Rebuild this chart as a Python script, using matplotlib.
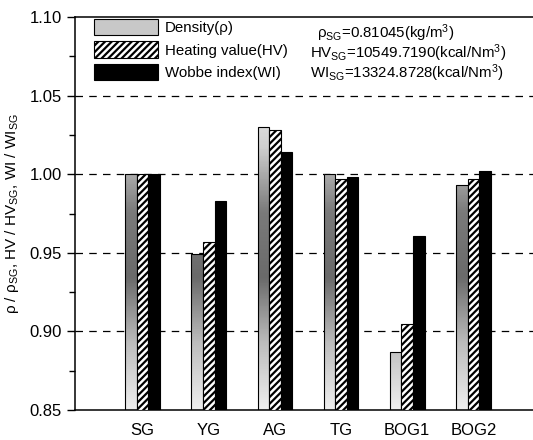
import numpy as np
import matplotlib; matplotlib.use("Agg")
import matplotlib.pyplot as plt
from matplotlib.patches import Patch
from matplotlib.colors import LinearSegmentedColormap

plt.rcParams["font.family"] = ["Liberation Sans", "DejaVu Sans"]
plt.rcParams["mathtext.default"] = "regular"
plt.rcParams["hatch.linewidth"] = 1.6

cats = ["SG", "YG", "AG", "TG", "BOG1", "BOG2"]
density = [1.000, 0.949, 1.030, 1.000, 0.887, 0.993]
heating = [1.000, 0.957, 1.028, 0.997, 0.905, 0.997]
wobbe = [1.000, 0.983, 1.014, 0.998, 0.961, 1.002]

fig = plt.figure(figsize=(5.33, 4.4), dpi=100)
ax = fig.add_axes([0.141, 0.068, 0.87, 0.893])

x = np.arange(len(cats))
w = 0.175
b1 = ax.bar(x - w, np.array(density) - 0.85, w, bottom=0.85, color="none", edgecolor="black", lw=0.8, zorder=3)
b2 = ax.bar(x, np.array(heating) - 0.85, w, bottom=0.85, color="white", edgecolor="black",
            hatch="/////", lw=0.8, zorder=3)
b3 = ax.bar(x + w, np.array(wobbe) - 0.85, w, bottom=0.85, color="black", edgecolor="black", lw=0.8, zorder=3)

# grey shading for density bars
cmap = LinearSegmentedColormap.from_list("g", ["#f2f2f2", "#cfcfcf", "#7a7a7a", "#6a6a6a", "#bdbdbd", "#eeeeee"])
grad = np.linspace(0, 1, 200).reshape(-1, 1)
for r in b1:
    im = ax.imshow(grad, cmap=cmap, aspect="auto", origin="upper",
                   extent=[r.get_x(), r.get_x() + r.get_width(), 0.85, 1.06], zorder=2.5)
    im.set_clip_path(r)

ax.set_xlim(-1.02, 5.99)
ax.set_ylim(0.85, 1.10)
ax.set_yticks([0.85, 0.90, 0.95, 1.00, 1.05, 1.10])
ax.set_yticks(np.arange(0.875, 1.10, 0.05), minor=True)
ax.yaxis.set_major_formatter(plt.FormatStrFormatter("%.2f"))
ax.tick_params(axis="y", which="major", length=6, width=1, labelsize=12, direction="out")
ax.tick_params(axis="y", which="minor", length=4, width=1, direction="out")
ax.set_xticks(x)
ax.set_xticklabels(cats, fontsize=12)
ax.tick_params(axis="x", length=0, pad=9)
for y in [0.90, 0.95, 1.00, 1.05]:
    ax.axhline(y, color="black", ls=(0, (6, 5)), lw=0.9, zorder=1)
for s in ax.spines.values():
    s.set_linewidth(1.1)
ax.spines["right"].set_visible(False)

ax.set_ylabel(r"$\rho$ / $\rho_{SG}$, HV / HV$_{SG}$, WI / WI$_{SG}$", fontsize=11, labelpad=6)

handles = [Patch(facecolor="#c8c8c8", edgecolor="black", lw=0.8),
           Patch(facecolor="white", edgecolor="black", hatch="/////", lw=0.8),
           Patch(facecolor="black", edgecolor="black", lw=0.8)]
labels = ["Density(\u03c1)", "Heating value(HV)", "Wobbe index(WI)"]
ax.legend(handles, labels, loc="upper left", bbox_to_anchor=(0.022, 1.016), frameon=False,
          fontsize=10.8, handlelength=4.3, handleheight=1.3, labelspacing=0.4, handletextpad=0.45,
          borderaxespad=0.25, borderpad=0.3)

refs = [r"$\rho_{SG}$=0.81045(kg/m$^3$)",
        r"HV$_{SG}$=10549.7190(kcal/Nm$^3$)",
        r"WI$_{SG}$=13324.8728(kcal/Nm$^3$)"]
ypos = [1.0895, 1.0768, 1.0641]
xpos = [0.522, 0.507, 0.507]
for t, yy, xx in zip(refs, ypos, xpos):
    ax.text(xx, yy, t, transform=ax.get_yaxis_transform(), fontsize=10.8, va="center", ha="left")

fig.savefig("out.png", dpi=100)
